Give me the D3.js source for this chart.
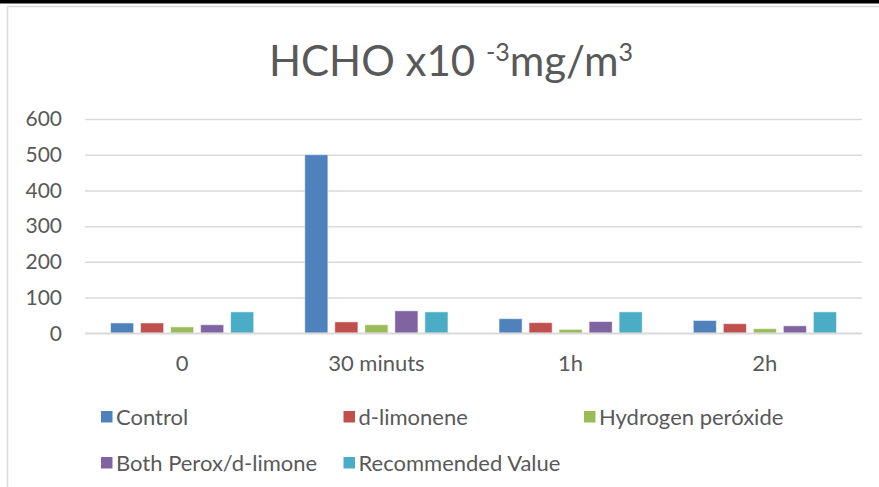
<!DOCTYPE html>
<html>
<head>
<meta charset="utf-8">
<script src="https://cdn.jsdelivr.net/npm/d3@7"></script>
<style>
  html, body { margin: 0; padding: 0; background: #fff; }
  svg { display: block; }
  text { font-family: Lato, "Open Sans", sans-serif; fill: #595959; }
</style>
</head>
<body>
<svg id="chart" width="879" height="487"></svg>
<script>
const categories = ["0", "30 minuts", "1h", "2h"];
const seriesNames = ["Control", "d-limonene", "Hydrogen peróxide", "Both Perox/d-limone", "Recommended Value"];
const seriesColors = ["#4F81BD", "#C0504D", "#9BBB59", "#8064A2", "#4BACC6"];
const control = [29, 500, 41, 36];
const dLimonene = [29, 32, 30, 27];
const hydrogenPeroxide = [18, 24, 11, 13];
const bothPerox = [24, 63, 33, 21];
const recommended = [60, 60, 60, 60];
const yTicks = [0, 100, 200, 300, 400, 500, 600];

const seriesValues = [control, dLimonene, hydrogenPeroxide, bothPerox, recommended];

const W = 879, H = 487;
const svg = d3.select("#chart");

// frame
svg.append("rect").attr("x", 0).attr("y", 0).attr("width", W).attr("height", 3.5).attr("fill", "#000");
svg.append("line").attr("x1", 7.5).attr("x2", W).attr("y1", 6.5).attr("y2", 6.5)
  .attr("stroke", "#d9d9d9").attr("stroke-width", 1.5);
svg.append("line").attr("x1", 7.5).attr("x2", 7.5).attr("y1", 6.5).attr("y2", H)
  .attr("stroke", "#d9d9d9").attr("stroke-width", 1.5);

// title
const title = svg.append("text").attr("x", 451).attr("y", 76)
  .attr("text-anchor", "middle").style("font-size", "42px");
title.append("tspan").text("HCHO x10 ");
title.append("tspan").text("-3").attr("baseline-shift", "super").style("font-size", "25px");
title.append("tspan").text("mg/m");
title.append("tspan").text("3").attr("baseline-shift", "super").style("font-size", "25px");

const margin = { left: 85, right: 862, top: 119, bottom: 333.3 };
const y = d3.scaleLinear().domain([0, 600]).range([margin.bottom, margin.top]);
const x0 = d3.scaleBand().domain(categories).range([margin.left, margin.right]).padding(0);
const x1 = d3.scaleBand().domain(d3.range(seriesNames.length)).range([0, x0.bandwidth()])
  .paddingInner(0.23).paddingOuter(0.85);

// gridlines
const yAxis = d3.axisLeft(y).tickValues(yTicks).tickSize(-(margin.right - margin.left)).tickPadding(23);
const gy = svg.append("g").attr("transform", `translate(${margin.left},0)`).call(yAxis);
gy.select(".domain").remove();
gy.selectAll(".tick line").attr("stroke", "#d9d9d9").attr("stroke-width", 1.5);
gy.selectAll(".tick text").style("font-size", "21px").attr("fill", "#595959").style("font-family", "Lato, sans-serif");

// bars
const groups = svg.append("g").selectAll("g").data(categories).join("g")
  .attr("transform", d => `translate(${x0(d)},0)`);
groups.selectAll("rect")
  .data((c, ci) => seriesValues.map((vals, si) => ({ si, v: vals[ci] })))
  .join("rect")
  .attr("x", d => x1(d.si))
  .attr("width", x1.bandwidth())
  .attr("y", d => y(d.v))
  .attr("height", d => y(0) - y(d.v))
  .attr("fill", d => seriesColors[d.si])
  .attr("stroke", "rgba(255,255,255,0.55)")
  .attr("stroke-width", 1);

// baseline
svg.append("line").attr("x1", margin.left).attr("x2", margin.right)
  .attr("y1", y(0)).attr("y2", y(0)).attr("stroke", "#d9d9d9").attr("stroke-width", 1.5);

// x axis labels
const xAxis = d3.axisBottom(x0).tickSize(0).tickPadding(22);
const gx = svg.append("g").attr("transform", `translate(0,${y(0)})`).call(xAxis);
gx.select(".domain").remove();
gx.selectAll(".tick text").style("font-size", "22px").attr("fill", "#595959").style("font-family", "Lato, sans-serif");

// legend
const legCols = [101, 343.5, 584];
const legRows = [417, 463];
const leg = svg.append("g").selectAll("g").data(seriesNames).join("g")
  .attr("transform", (d, i) => `translate(${legCols[i % 3]},${legRows[Math.floor(i / 3)]})`);
leg.append("rect").attr("x", 0).attr("y", -6).attr("width", 11.5).attr("height", 11.5)
  .attr("fill", (d, i) => seriesColors[i]);
leg.append("text").attr("x", 15).attr("y", 0).attr("dy", "0.36em")
  .style("font-size", "22px").text(d => d);
</script>
</body>
</html>
